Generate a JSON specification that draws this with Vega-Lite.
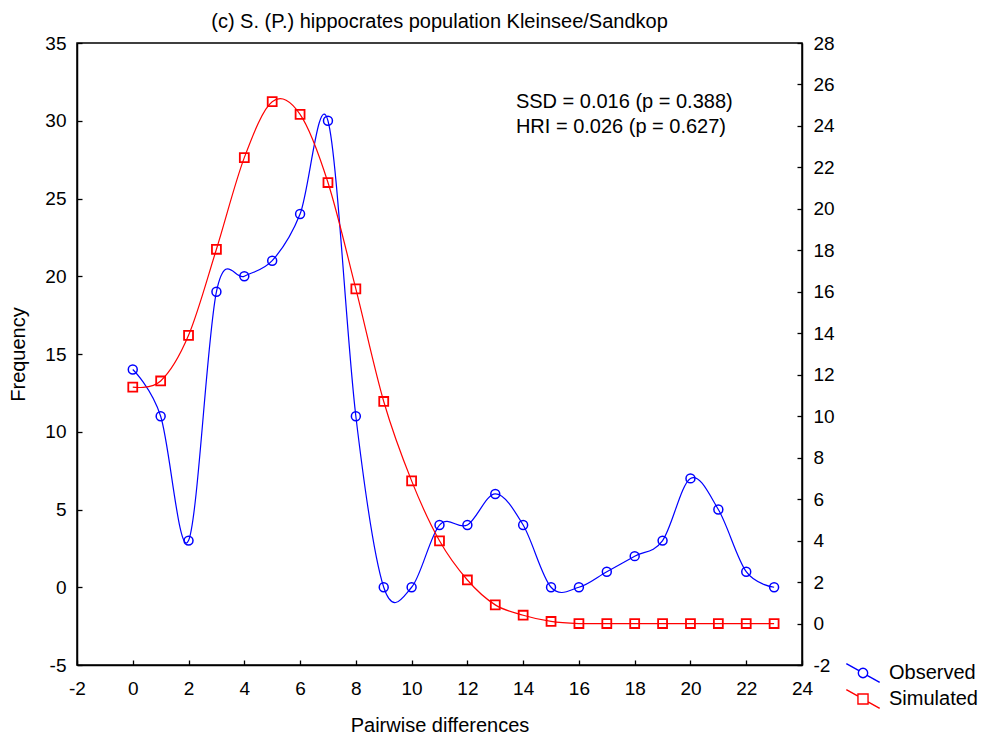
{
  "$schema": "https://vega.github.io/schema/vega-lite/v6.json",
  "autosize": {"type": "none"},
  "width": 725,
  "height": 622,
  "padding": {"left": 77, "top": 43, "right": 180, "bottom": 73},
  "background": "white",
  "title": {
    "text": "(c) S. (P.) hippocrates population Kleinsee/Sandkop",
    "fontSize": 20,
    "fontWeight": "normal",
    "color": "black",
    "anchor": "middle",
    "offset": 2
  },
  "data": {
    "values": [
      {"x": 0, "y": 14, "series": "Observed"},
      {"x": 1, "y": 11, "series": "Observed"},
      {"x": 2, "y": 3, "series": "Observed"},
      {"x": 3, "y": 19, "series": "Observed"},
      {"x": 4, "y": 20, "series": "Observed"},
      {"x": 5, "y": 21, "series": "Observed"},
      {"x": 6, "y": 24, "series": "Observed"},
      {"x": 7, "y": 30, "series": "Observed"},
      {"x": 8, "y": 11, "series": "Observed"},
      {"x": 9, "y": 0, "series": "Observed"},
      {"x": 10, "y": 0, "series": "Observed"},
      {"x": 11, "y": 4, "series": "Observed"},
      {"x": 12, "y": 4, "series": "Observed"},
      {"x": 13, "y": 6, "series": "Observed"},
      {"x": 14, "y": 4, "series": "Observed"},
      {"x": 15, "y": 0, "series": "Observed"},
      {"x": 16, "y": 0, "series": "Observed"},
      {"x": 17, "y": 1, "series": "Observed"},
      {"x": 18, "y": 2, "series": "Observed"},
      {"x": 19, "y": 3, "series": "Observed"},
      {"x": 20, "y": 7, "series": "Observed"},
      {"x": 21, "y": 5, "series": "Observed"},
      {"x": 22, "y": 1, "series": "Observed"},
      {"x": 23, "y": 0, "series": "Observed"},
      {"x": 0, "y": 11.4, "series": "Simulated"},
      {"x": 1, "y": 11.7, "series": "Simulated"},
      {"x": 2, "y": 13.9, "series": "Simulated"},
      {"x": 3, "y": 18.05, "series": "Simulated"},
      {"x": 4, "y": 22.47, "series": "Simulated"},
      {"x": 5, "y": 25.17, "series": "Simulated"},
      {"x": 6, "y": 24.56, "series": "Simulated"},
      {"x": 7, "y": 21.27, "series": "Simulated"},
      {"x": 8, "y": 16.14, "series": "Simulated"},
      {"x": 9, "y": 10.71, "series": "Simulated"},
      {"x": 10, "y": 6.88, "series": "Simulated"},
      {"x": 11, "y": 3.99, "series": "Simulated"},
      {"x": 12, "y": 2.1, "series": "Simulated"},
      {"x": 13, "y": 0.9, "series": "Simulated"},
      {"x": 14, "y": 0.4, "series": "Simulated"},
      {"x": 15, "y": 0.1, "series": "Simulated"},
      {"x": 16, "y": 0, "series": "Simulated"},
      {"x": 17, "y": 0, "series": "Simulated"},
      {"x": 18, "y": 0, "series": "Simulated"},
      {"x": 19, "y": 0, "series": "Simulated"},
      {"x": 20, "y": 0, "series": "Simulated"},
      {"x": 21, "y": 0, "series": "Simulated"},
      {"x": 22, "y": 0, "series": "Simulated"},
      {"x": 23, "y": 0, "series": "Simulated"}
    ]
  },
  "encoding": {
    "x": {
      "field": "x",
      "type": "quantitative",
      "scale": {"domain": [-2, 24], "nice": false, "zero": false},
      "axis": {
        "title": "Pairwise differences",
        "values": [-2, 0, 2, 4, 6, 8, 10, 12, 14, 16, 18, 20, 22, 24],
        "labelExpr": "'' + datum.value",
        "labelFlush": false,
        "labelOverlap": false,
        "labelPadding": 19,
        "titlePadding": 17
      }
    },
    "color": {
      "field": "series",
      "type": "nominal",
      "scale": {"domain": ["Observed", "Simulated"], "range": ["#0000ff", "#ff0000"]},
      "legend": {
        "title": null,
        "orient": "none",
        "legendX": 773,
        "legendY": 617,
        "symbolSize": 576,
        "symbolType": "M-1.39,-0.79L-0.34,-0.19M0.34,0.19L1.39,0.79M0.39,0A0.39,0.39 0 1,1 -0.39,0A0.39,0.39 0 1,1 0.39,0",
        "labelOffset": 13,
        "rowPadding": -2,
        "labelFontSize": 20,
        "labelColor": "black",
        "padding": 0,
        "encode": {
          "symbols": {
            "update": {
              "shape": {"signal": "datum.value === 'Observed' ? 'M-1.39,-0.79L-0.34,-0.19M0.34,0.19L1.39,0.79M0.39,0A0.39,0.39 0 1,1 -0.39,0A0.39,0.39 0 1,1 0.39,0' : 'M-1.39,-0.79L-0.42,-0.24M0.42,0.24L1.39,0.79M-0.42,-0.42H0.42V0.42H-0.42Z'"},
              "fill": {"value": "transparent"},
              "strokeWidth": {"value": 1.4},
              "opacity": {"value": 1}
            }
          }
        }
      }
    }
  },
  "layer": [
    {
      "transform": [{"filter": "datum.series === 'Observed'"}],
      "encoding": {
        "y": {
          "field": "y",
          "type": "quantitative",
          "scale": {"domain": [-5, 35], "nice": false, "zero": false},
          "axis": {
            "title": "Frequency",
            "orient": "left",
            "values": [-5, 0, 5, 10, 15, 20, 25, 30, 35],
            "labelExpr": "'' + datum.value",
            "labelPadding": 16,
            "titlePadding": 16
          }
        }
      },
      "layer": [
        {"mark": {"type": "line", "interpolate": "cardinal", "strokeWidth": 1.2}},
        {
          "mark": {"type": "point", "filled": false, "shape": "circle", "size": 80, "strokeWidth": 1.5, "opacity": 1}
        },
        {
          "data": {
            "values": [
              {"tx": 13.74, "ty": 30.82, "label": "SSD = 0.016 (p = 0.388)"},
              {"tx": 13.74, "ty": 29.2, "label": "HRI = 0.026 (p = 0.627)"}
            ]
          },
          "transform": [],
          "mark": {"type": "text", "align": "left", "baseline": "alphabetic", "fontSize": 20, "color": "black"},
          "encoding": {
            "x": {"field": "tx", "type": "quantitative"},
            "y": {"field": "ty", "type": "quantitative"},
            "text": {"field": "label"},
            "color": {"value": "black"}
          }
        }
      ]
    },
    {
      "transform": [{"filter": "datum.series === 'Simulated'"}],
      "encoding": {
        "y": {
          "field": "y",
          "type": "quantitative",
          "scale": {"domain": [-2, 28], "nice": false, "zero": false},
          "axis": {
            "title": null,
            "orient": "right",
            "values": [-2, 0, 2, 4, 6, 8, 10, 12, 14, 16, 18, 20, 22, 24, 26, 28],
            "labelExpr": "'' + datum.value",
            "labelPadding": 16
          }
        }
      },
      "layer": [
        {"mark": {"type": "line", "interpolate": "cardinal", "strokeWidth": 1.2}},
        {
          "mark": {"type": "point", "filled": false, "shape": "square", "size": 80, "strokeWidth": 1.8, "opacity": 1}
        }
      ]
    }
  ],
  "resolve": {"scale": {"y": "independent"}},
  "config": {
    "font": "Liberation Sans",
    "view": {"stroke": "black", "strokeWidth": 1.5},
    "axis": {
      "grid": false,
      "domainColor": "black",
      "domainWidth": 1.5,
      "tickColor": "black",
      "tickWidth": 1.3,
      "tickSize": -5,
      "labelFontSize": 19,
      "labelColor": "black",
      "titleFontSize": 20,
      "titleFontWeight": "normal",
      "titleColor": "black"
    }
  }
}
